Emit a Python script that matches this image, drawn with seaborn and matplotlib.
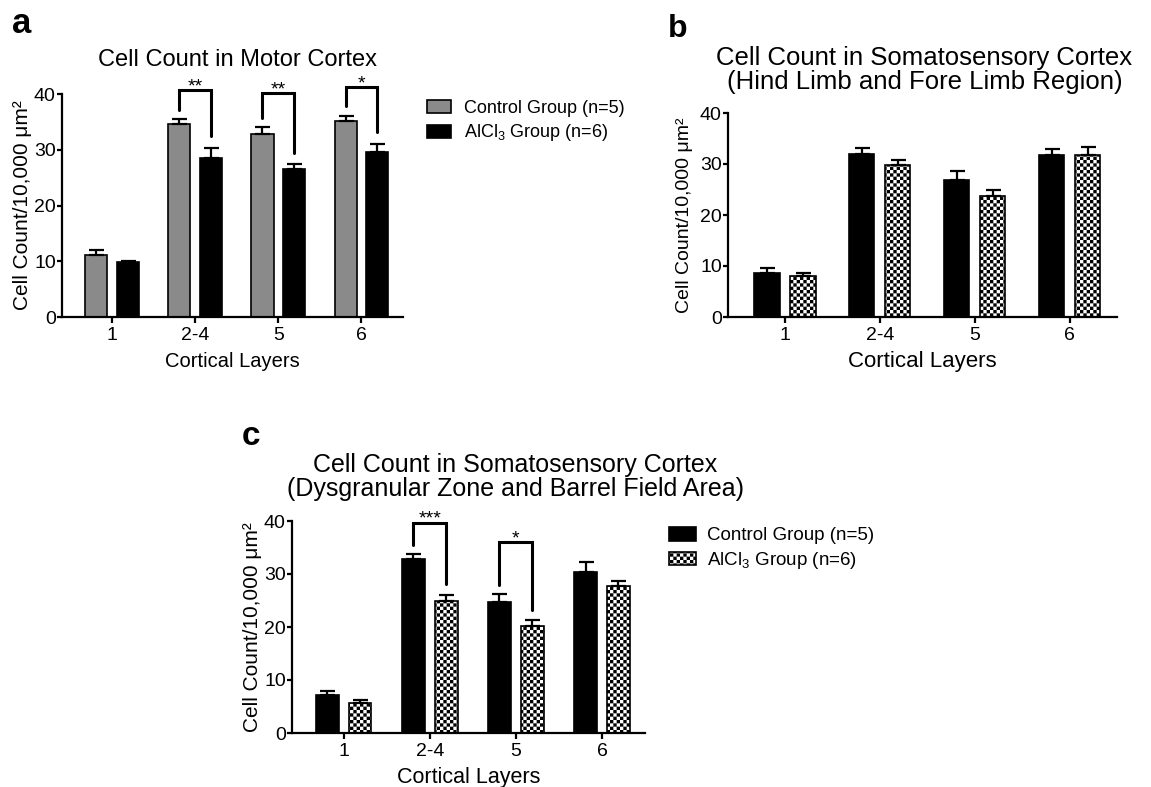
import warnings
import numpy as np
import pandas as pd
import seaborn as sns
import matplotlib.pyplot as plt
from matplotlib import hatch as mhatch
from matplotlib.path import Path

warnings.filterwarnings('ignore')

# categories
layers = ['1', '2-4', '5', '6']
groups = ['Control Group (n=5)', 'AlCl$_3$ Group (n=6)']

# a: motor cortex (mean, sem)
a_ctrl = [11.1, 34.7, 32.8, 35.1]
a_ctrl_sem = [0.9, 0.8, 1.2, 1.0]
a_alcl = [9.8, 28.6, 26.5, 29.6]
a_alcl_sem = [0.3, 1.8, 0.9, 1.5]
a_sig = ['', '**', '**', '*']
a_sig_top = [0, 40.7, 40.2, 41.2]

# b: somatosensory, hind limb / fore limb
b_ctrl = [8.6, 32.0, 26.9, 31.8]
b_ctrl_sem = [1.0, 1.1, 1.7, 1.1]
b_alcl = [8.0, 29.9, 23.7, 31.7]
b_alcl_sem = [0.6, 0.8, 1.3, 1.6]

# c: somatosensory, dysgranular zone / barrel field
c_ctrl = [7.1, 32.8, 24.8, 30.4]
c_ctrl_sem = [0.9, 1.0, 1.5, 1.9]
c_alcl = [5.6, 24.9, 20.1, 27.8]
c_alcl_sem = [0.7, 1.2, 1.2, 0.8]
c_sig = ['', '***', '*', '']
c_sig_top = [0, 39.7, 36.0, 0]


# checkerboard hatch ('c'), matplotlib has none built in
class Checker(mhatch.HatchPatternBase):
    def __init__(self, hatch, density):
        self.n = hatch.count('c') * density
        self.num_vertices = (self.n * self.n // 2) * 5

    def set_vertices_and_codes(self, vertices, codes):
        s = 1.0 / self.n
        k = 0
        for i in range(self.n):
            for j in range(self.n):
                if (i + j) % 2 == 0:
                    x0, y0 = j * s, i * s
                    vertices[k:k + 5] = [[x0, y0], [x0 + s, y0], [x0 + s, y0 + s],
                                         [x0, y0 + s], [x0, y0]]
                    codes[k:k + 5] = [Path.MOVETO, Path.LINETO, Path.LINETO,
                                      Path.LINETO, Path.CLOSEPOLY]
                    k += 5


mhatch._hatch_types.append(Checker)

sns.set_style('ticks')
plt.rcParams['font.family'] = ['Liberation Sans', 'DejaVu Sans']
plt.rcParams['mathtext.fontset'] = 'custom'
plt.rcParams['mathtext.rm'] = 'Liberation Sans'
plt.rcParams['mathtext.it'] = 'Liberation Sans:italic'
plt.rcParams['mathtext.bf'] = 'Liberation Sans:bold'
plt.rcParams['text.color'] = 'black'
plt.rcParams['axes.labelcolor'] = 'black'
plt.rcParams['hatch.linewidth'] = 0.01
plt.rcParams['hatch.color'] = 'black'

W, H = 1151, 787
fig = plt.figure(figsize=(W / 100, H / 100), dpi=100)


def px_axes(l, t, r, b):
    return fig.add_axes([l / W, 1 - b / H, (r - l) / W, (b - t) / H])


def draw_panel(ax, ctrl, ctrl_sem, alcl, alcl_sem, ctrl_color, checker, fs):
    df = pd.DataFrame({'layer': layers * 2,
                       'group': [groups[0]] * 4 + [groups[1]] * 4,
                       'count': ctrl + alcl})
    sns.barplot(data=df, x='layer', y='count', hue='group', ax=ax,
                palette=[ctrl_color, 'white' if checker else 'black'],
                saturation=1, width=0.76, gap=0.3, edgecolor='black',
                linewidth=1.2, errorbar=None, legend=False)
    bar_sets = list(ax.containers)
    if checker:
        for p in bar_sets[1]:
            p.set_hatch('ccccc')
    for bars, means, sems in zip(bar_sets, [ctrl, alcl], [ctrl_sem, alcl_sem]):
        xs = [p.get_x() + p.get_width() / 2 for p in bars]
        ax.errorbar(xs, means, yerr=[np.zeros(len(sems)), sems], fmt='none',
                    ecolor='black', elinewidth=1.6, capsize=5.4, capthick=1.6)
    ax.set_xlim(-0.6, 3.5)
    ax.set_ylim(0, 40)
    ax.set_yticks([0, 10, 20, 30, 40])
    sns.despine(ax=ax)
    for s in ['left', 'bottom']:
        ax.spines[s].set_linewidth(1.6)
        ax.spines[s].set_color('black')
    ax.tick_params(axis='y', length=3.5, width=1.6, pad=1, labelsize=fs['tick'], colors='black')
    ax.tick_params(axis='x', length=4, width=1.6, pad=3, labelsize=fs['tick'], colors='black')
    ax.set_xlabel('Cortical Layers', fontsize=fs['label'], labelpad=fs['xpad'])
    ax.set_ylabel('Cell Count/10,000 μm²', fontsize=fs['ylabel'])
    ax.yaxis.set_label_coords(fs['ycoord'], 0.5)
    return bar_sets


def draw_sig(ax, bar_sets, ctrl, ctrl_sem, alcl, alcl_sem, sig, tops):
    for i, lab in enumerate(sig):
        if not lab:
            continue
        p0, p1 = bar_sets[0][i], bar_sets[1][i]
        x0 = p0.get_x() + p0.get_width() / 2
        x1 = p1.get_x() + p1.get_width() / 2
        y0 = ctrl[i] + ctrl_sem[i] + 1.7
        y1 = alcl[i] + alcl_sem[i] + 2.0
        ax.plot([x0, x0, x1, x1], [y0, tops[i], tops[i], y1], color='black',
                lw=2.2, clip_on=False, solid_joinstyle='miter')
        ax.text((x0 + x1) / 2, tops[i] - 0.2, lab, ha='center', va='baseline',
                fontsize=14)


# ---- panel a
ax_a = px_axes(62, 94, 403, 317)
fs_a = {'tick': 14, 'label': 14.5, 'ylabel': 15, 'xpad': 6, 'ycoord': -0.088}
bars_a = draw_panel(ax_a, a_ctrl, a_ctrl_sem, a_alcl, a_alcl_sem, '#8a8a8a', False, fs_a)
draw_sig(ax_a, bars_a, a_ctrl, a_ctrl_sem, a_alcl, a_alcl_sem, a_sig, a_sig_top)
ax_a.set_title('Cell Count in Motor Cortex', fontsize=17, x=0.515, pad=20)
ax_a.legend(handles=[bars_a[0][0], bars_a[1][0]], labels=groups,
            loc='upper left', bbox_to_anchor=(427 / W, 1 - 100 / H),
            bbox_transform=fig.transFigure, frameon=False, fontsize=13,
            handlelength=1.35, handleheight=0.75, handletextpad=0.7,
            labelspacing=0.3, borderpad=0, borderaxespad=0)

# ---- panel b
ax_b = px_axes(728, 113, 1117, 317)
fs_b = {'tick': 14, 'label': 16, 'ylabel': 14, 'xpad': 5, 'ycoord': -0.09}
bars_b = draw_panel(ax_b, b_ctrl, b_ctrl_sem, b_alcl, b_alcl_sem, 'black', True, fs_b)
ax_b.set_title('Cell Count in Somatosensory Cortex\n(Hind Limb and Fore Limb Region)',
               fontsize=18.5, linespacing=1.0, x=0.505, pad=17)

# ---- panel c
ax_c = px_axes(292, 521, 645, 733)
fs_c = {'tick': 14, 'label': 15.5, 'ylabel': 15, 'xpad': 5, 'ycoord': -0.085}
bars_c = draw_panel(ax_c, c_ctrl, c_ctrl_sem, c_alcl, c_alcl_sem, 'black', True, fs_c)
draw_sig(ax_c, bars_c, c_ctrl, c_ctrl_sem, c_alcl, c_alcl_sem, c_sig, c_sig_top)
ax_c.set_title('Cell Count in Somatosensory Cortex\n(Dysgranular Zone and Barrel Field Area)',
               fontsize=18, linespacing=1.0, x=0.632, pad=18)
ax_c.legend(handles=[bars_c[0][0], bars_c[1][0]], labels=groups,
            loc='upper left', bbox_to_anchor=(669 / W, 1 - 527 / H),
            bbox_transform=fig.transFigure, frameon=False, fontsize=13.5,
            handlelength=1.45, handleheight=0.75, handletextpad=0.6,
            labelspacing=0.3, borderpad=0, borderaxespad=0)

# panel letters
fig.text(12 / W, 1 - 33 / H, 'a', fontsize=25, fontweight='bold', va='baseline')
fig.text(668 / W, 1 - 37 / H, 'b', fontsize=23, fontweight='bold', va='baseline')
fig.text(242 / W, 1 - 445 / H, 'c', fontsize=24, fontweight='bold', va='baseline')

fig.savefig('out.png', dpi=100)
